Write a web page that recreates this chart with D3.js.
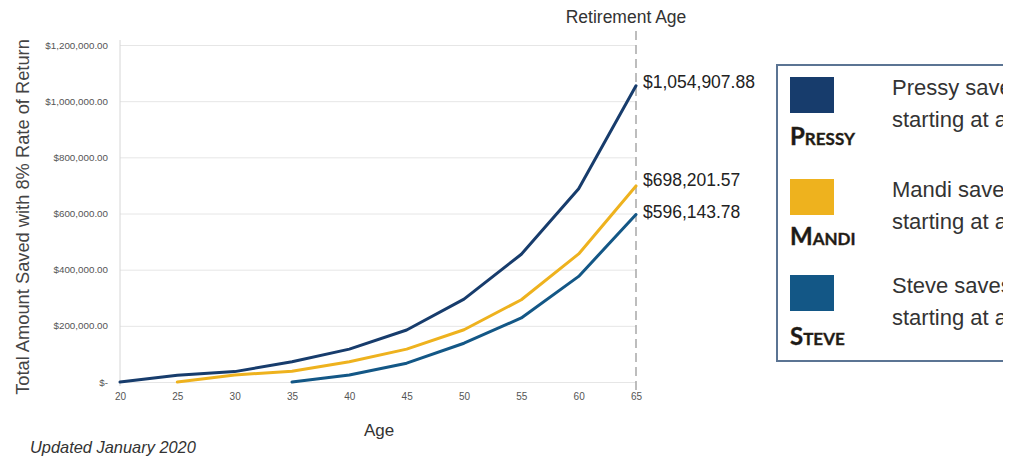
<!DOCTYPE html>
<html>
<head>
<meta charset="utf-8">
<script src="https://cdnjs.cloudflare.com/ajax/libs/d3/7.8.5/d3.min.js"></script>
<style>
  body { margin: 0; background: #fff; }
  svg { display: block; font-family: "Liberation Sans", Arial, sans-serif; }
</style>
</head>
<body>
<div id="chart"></div>
<script>
// Ages on the x axis
var ages = [20, 25, 30, 35, 40, 45, 50, 55, 60, 65];

// Amount saved at each age (null = not started yet)
var pressy = [0, 24000, 37000, 72000, 117000, 185000, 295000, 455000, 688000, 1054907.88];
var mandi  = [null, 0, 25000, 38000, 72000, 117000, 186000, 293000, 456000, 698201.57];
var steve  = [null, null, null, 0, 25000, 67000, 138000, 228000, 376000, 596143.78];

var seriesNames = ["Pressy", "Mandi", "Steve"];
var seriesColors = ["#173c6c", "#eeb21e", "#135786"];
var finalLabels = ["$1,054,907.88", "$698,201.57", "$596,143.78"];
var legendLine2 = ["starting at age 20", "starting at age 25", "starting at age 35"];
var yTicks = [0, 200000, 400000, 600000, 800000, 1000000, 1200000];

var width = 1013;
var height = 457;
var margin = ({ top: 45, right: 377, bottom: 75, left: 120 });

const svg = d3.select("#chart")
    .append("svg")
    .attr("width", width)
    .attr("height", height);

var x = d3.scaleLinear()
    .domain([20, 65])
    .range([margin.left, width - margin.right]);
var y = d3.scaleLinear()
    .domain([0, 1200000])
    .range([height - margin.bottom, margin.top]);

// money format like the excel one: "$1,200,000.00", zero is "$-"
var money = d => d === 0 ? "$-" : "$" + d3.format(",.2f")(d);

// grid lines
svg.append("g")
    .attr("transform", `translate(${margin.left},0)`)
    .call(d3.axisRight(y).tickValues(yTicks).tickSize(x(65) - x(20)).tickFormat(""))
    .call(g => g.select(".domain").remove())
    .call(g => g.selectAll(".tick line").attr("stroke", "#e6e6e6"));

// left axis line
svg.append("line")
    .attr("x1", x(20)).attr("x2", x(20))
    .attr("y1", y(1200000) - 5).attr("y2", y(0) + 4)
    .attr("stroke", "#d6d6d6");

// y axis labels
svg.append("g")
    .attr("transform", `translate(${margin.left},0)`)
    .call(d3.axisLeft(y).tickValues(yTicks).tickSize(0).tickPadding(12).tickFormat(money))
    .call(g => g.select(".domain").remove())
    .call(g => g.selectAll("text")
        .style("font-family", "Liberation Sans, Arial, sans-serif")
        .style("font-size", "9.8px")
        .attr("fill", "#555"));

// x axis labels
svg.append("g")
    .attr("transform", `translate(0,${y(0) + 8})`)
    .call(d3.axisBottom(x).tickValues(ages).tickSize(0).tickPadding(3))
    .call(g => g.select(".domain").remove())
    .call(g => g.selectAll("text")
        .style("font-family", "Liberation Sans, Arial, sans-serif")
        .style("font-size", "10px")
        .attr("fill", "#555"));

// retirement line
svg.append("line")
    .attr("x1", x(65)).attr("x2", x(65))
    .attr("y1", 31).attr("y2", y(0) + 8)
    .attr("stroke", "#a8a8a8")
    .attr("stroke-width", 1.5)
    .attr("stroke-dasharray", "9,5");

svg.append("text")
    .attr("x", 626)
    .attr("y", 23)
    .attr("text-anchor", "middle")
    .style("font-size", "17.5px")
    .attr("fill", "#333")
    .text("Retirement Age");

// the three lines
var allSeries = [pressy, mandi, steve];
var line = d3.line()
    .defined(d => d.v !== null)
    .x(d => x(d.age))
    .y(d => y(d.v));

allSeries.forEach(function (s, i) {
    var pts = ages.map((a, j) => ({ age: a, v: s[j] }));
    svg.append("path")
        .datum(pts)
        .attr("fill", "none")
        .attr("stroke", seriesColors[i])
        .attr("stroke-width", 3)
        .attr("stroke-linejoin", "round")
        .attr("stroke-linecap", "round")
        .attr("d", line);
});

// end labels, sitting just above the end of each line
var labelShift = [-4, -6, -3];
var labelY = [pressy[9], mandi[9], steve[9]];
svg.append("g")
    .selectAll("text")
    .data(finalLabels)
    .join("text")
      .attr("x", x(65) + 7)
      .attr("y", (d, i) => y(labelY[i]) + labelShift[i])
      .attr("dy", "0.35em")
      .style("font-size", "17.5px")
      .attr("fill", "#222")
      .text(d => d);

// axis titles
svg.append("text")
    .attr("x", 379)
    .attr("y", 436)
    .attr("text-anchor", "middle")
    .style("font-size", "17px")
    .attr("fill", "#333")
    .text("Age");

svg.append("text")
    .attr("transform", `translate(29,217) rotate(-90)`)
    .attr("text-anchor", "middle")
    .style("font-size", "18.3px")
    .attr("fill", "#444")
    .text("Total Amount Saved with 8% Rate of Return");

svg.append("text")
    .attr("x", 30)
    .attr("y", 453)
    .style("font-size", "16.4px")
    .style("font-style", "italic")
    .attr("fill", "#333")
    .text("Updated January 2020");

// legend box (the original picture is cut on the right, ~1003px)
svg.append("clipPath")
    .attr("id", "legend-clip")
    .append("rect")
    .attr("x", 760).attr("y", 0)
    .attr("width", 243).attr("height", height);

var legend = svg.append("g").attr("clip-path", "url(#legend-clip)");
legend.append("rect")
    .attr("x", 777)
    .attr("y", 65)
    .attr("width", 300)
    .attr("height", 296)
    .attr("fill", "none")
    .attr("stroke", "#5b7493")
    .attr("stroke-width", 2);

var legendTop = [77, 179, 275];
var nameBase = [145, 245, 345];
seriesNames.forEach(function (n, i) {
    legend.append("rect")
        .attr("x", 790).attr("y", legendTop[i])
        .attr("width", 44).attr("height", 36)
        .attr("fill", seriesColors[i]);
    legend.append("text")
        .attr("x", 790).attr("y", nameBase[i])
        .style("font-family", "Lato, 'Liberation Sans', sans-serif")
        .style("font-size", "24px")
        .style("font-weight", "bold")
        .style("font-variant", "small-caps")
        .attr("fill", "#1a1a1a")
        .attr("stroke", "#3a2a10")
        .attr("stroke-width", 0.4)
        .text(n);
    legend.append("text")
        .attr("x", 892).attr("y", legendTop[i] + 18)
        .style("font-size", "22px")
        .attr("fill", "#333")
        .text(n + " saves");
    legend.append("text")
        .attr("x", 892).attr("y", legendTop[i] + 50)
        .style("font-size", "22px")
        .attr("fill", "#333")
        .text(legendLine2[i]);
});
</script>
</body>
</html>
